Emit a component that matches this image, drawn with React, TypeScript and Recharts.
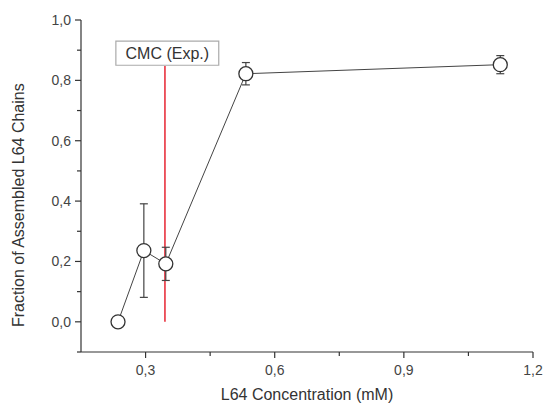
import React from 'react';
import { ComposedChart, Line, XAxis, YAxis, ErrorBar, ReferenceLine, ReferenceArea } from 'recharts';

const concentrations = [0.236, 0.296, 0.347, 0.533, 1.124];
const fractions = [0.0, 0.236, 0.192, 0.822, 0.852];
const errors = [0, 0.155, 0.055, 0.037, 0.03];

const xTicks = [0.3, 0.45, 0.6, 0.75, 0.9, 1.05, 1.2];
const xMajor = [0.3, 0.6, 0.9, 1.2];
const yTicks = [-0.1, 0.0, 0.1, 0.2, 0.3, 0.4, 0.5, 0.6, 0.7, 0.8, 0.9, 1.0];
const yMajor = [0.0, 0.2, 0.4, 0.6, 0.8, 1.0];

const cmcValue = 0.345;
const cmcTop = 0.848;
const cmcLabel = 'CMC (Exp.)';
const cmcBox = { x1: 0.231, x2: 0.47, y1: 0.85, y2: 0.93 };

const data = concentrations.map((c, i) => ({ x: c, y: fractions[i], err: errors[i] }));

const AX = '#333';
const FONT = '"Liberation Sans", Arial, sans-serif';
const fmt = (v: number) => v.toFixed(1).replace('.', ',');
const isMajor = (arr: number[], v: number) => arr.some((m) => Math.abs(m - v) < 1e-6);

const BottomTick = (props: any) => {
  const { x, y, payload } = props;
  const major = isMajor(xMajor, payload.value);
  return (
    <g>
      <line x1={x} x2={x} y1={y} y2={y + (major ? 6 : 4)} stroke={AX} strokeWidth={1.2} />
      {major && (
        <text x={x} y={y + 23} textAnchor="middle" fontSize={14} fill="#444" fontFamily={FONT}>
          {fmt(payload.value)}
        </text>
      )}
    </g>
  );
};

const TopTick = (props: any) => {
  const { x, y, payload } = props;
  const major = isMajor(xMajor, payload.value);
  return <line x1={x} x2={x} y1={y} y2={y + (major ? 6 : 4)} stroke={AX} strokeWidth={1.2} />;
};

const LeftTick = (props: any) => {
  const { x, y, payload } = props;
  const major = isMajor(yMajor, payload.value);
  return (
    <g>
      <line x1={x} x2={x - (major ? 6 : 4)} y1={y} y2={y} stroke={AX} strokeWidth={1.2} />
      {major && (
        <text x={x - 10} y={y + 5} textAnchor="end" fontSize={14} fill="#444" fontFamily={FONT}>
          {fmt(payload.value)}
        </text>
      )}
    </g>
  );
};

export default function App() {
  return (
    <div style={{ position: 'absolute', left: 0, top: 0, background: '#fff' }}>
      <ComposedChart width={544} height={403} data={data} margin={{ top: 20, right: 11, bottom: 0, left: 0 }}>
        <XAxis
          xAxisId="b"
          type="number"
          dataKey="x"
          domain={[0.15, 1.2]}
          ticks={xTicks}
          tickSize={0}
          tickMargin={0}
          tickLine={false}
          tick={<BottomTick />}
          interval={0}
          height={51}
          stroke={AX}
          strokeWidth={1.2}
          label={{ value: 'L64 Concentration (mM)', position: 'insideBottom', offset: 3, fontSize: 16, fill: '#333', fontFamily: FONT }}
        />
        <XAxis
          xAxisId="t"
          orientation="top"
          type="number"
          dataKey="x"
          domain={[0.15, 1.2]}
          ticks={xTicks}
          tickSize={0}
          tickMargin={0}
          tickLine={false}
          tick={<TopTick />}
          interval={0}
          height={0}
          stroke={AX}
          strokeWidth={1.2}
        />
        <YAxis
          yAxisId="l"
          type="number"
          domain={[-0.1, 1.0]}
          ticks={yTicks}
          tickSize={0}
          tickMargin={0}
          tickLine={false}
          tick={<LeftTick />}
          interval={0}
          width={81}
          stroke={AX}
          strokeWidth={1.2}
          label={{ value: 'Fraction of Assembled L64 Chains', angle: -90, position: 'insideLeft', offset: 18, dy: 141, fontSize: 16, fill: '#333', fontFamily: FONT }}
        />
        <YAxis
          yAxisId="r"
          orientation="right"
          type="number"
          domain={[-0.1, 1.0]}
          tick={false}
          tickLine={false}
          width={0}
          stroke={AX}
          strokeWidth={1.2}
        />
        <ReferenceLine
          xAxisId="b"
          yAxisId="l"
          segment={[{ x: cmcValue, y: 0 }, { x: cmcValue, y: cmcTop }]}
          stroke="#e8323e"
          strokeWidth={1.6}
        />
        <ReferenceArea
          xAxisId="b"
          yAxisId="l"
          x1={cmcBox.x1}
          x2={cmcBox.x2}
          y1={cmcBox.y1}
          y2={cmcBox.y2}
          fill="#fff"
          fillOpacity={1}
          stroke="#aaa"
          strokeWidth={1.2}
          label={{ value: cmcLabel, position: 'center', fontSize: 16, fill: '#333', fontFamily: FONT }}
        />
        <Line
          xAxisId="b"
          yAxisId="l"
          dataKey="y"
          stroke="#444"
          strokeWidth={1}
          isAnimationActive={false}
          dot={{ r: 7, fill: '#fff', stroke: '#333', strokeWidth: 1.3 }}
          activeDot={false}
        >
          <ErrorBar dataKey="err" direction="y" width={4} stroke="#444" strokeWidth={1.2} />
        </Line>
      </ComposedChart>
    </div>
  );
}
